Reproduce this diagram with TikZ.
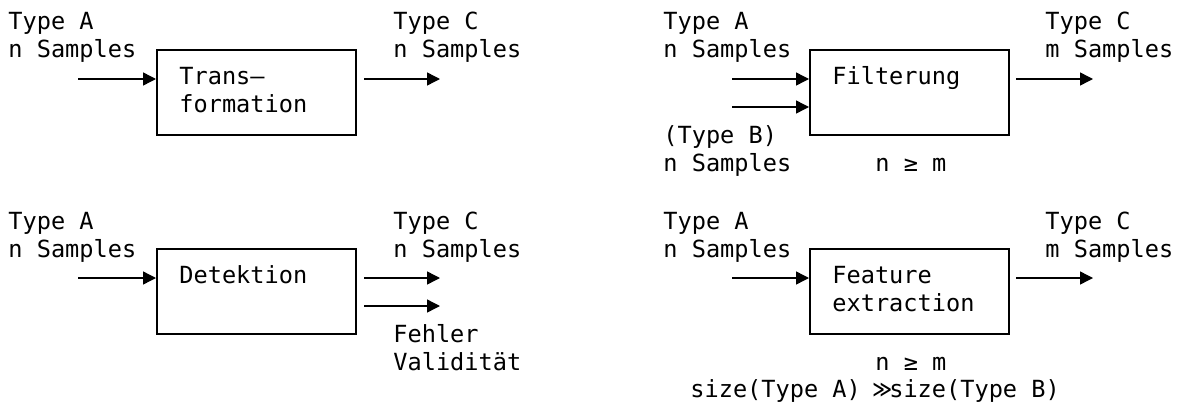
\documentclass[tikz,border=0pt]{standalone}
\usepackage{fontspec}
\setmonofont{DejaVu Sans Mono}
\newfontfamily\symfont{DejaVu Sans}
\usetikzlibrary{arrows.meta}

\tikzset{
  block/.style={draw, line width=1pt, minimum width=99.5pt, minimum height=42.5pt, inner sep=0pt},
  txt/.style={anchor=base west, align=left, inner sep=0pt, font=\ttfamily\fontsize{11.8pt}{14pt}\selectfont},
  flow/.style={-{Triangle[length=6.5pt,width=6.5pt]}, line width=0.7pt},
}
% the mono font has no "much greater" sign, borrow it at one cell width
\newcommand{\mgg}{\makebox[0.602em][c]{\scalebox{0.8}[1]{\symfont ≫}}}

\begin{document}
\begin{tikzpicture}[x=0.5pt,y=-0.5pt]
\useasboundingbox (0,0) rectangle (1177,407);

% Transformation
\node[block] (trans) at (256.5,92.5) {};
\node[txt] (transname) at ([shift={(23,63)}]trans.north west) {Trans—\\formation};
\node[txt] (transa) at (8,57) {Type A\\n Samples};
\node[txt] (transc) at (393,57) {Type C\\n Samples};
\coordinate (transin) at (78,79);
\coordinate (transout) at (440,79);
\draw[flow] (transin) -- (trans.west |- transin);
\draw[flow, shorten <=3.5pt] (trans.east |- transout) -- (transout);

% Filterung
\node[block] (filt) at (909.5,92.5) {};
\node[txt] (filtname) at ([shift={(23,35)}]filt.north west) {Filterung};
\node[txt] (filta) at (663,57) {Type A\\n Samples};
\node[txt] (filtb) at (663,171) {(Type B)\\n Samples};
\node[txt] (filtnm) at (875,171) {n ≥ m};
\node[txt] (filtc) at (1045,57) {Type C\\m Samples};
\coordinate (filtina) at (732,79);
\coordinate (filtinb) at (732,107);
\coordinate (filtout) at (1093,79);
\draw[flow] (filtina) -- (filt.west |- filtina);
\draw[flow] (filtinb) -- (filt.west |- filtinb);
\draw[flow, shorten <=3pt] (filt.east |- filtout) -- (filtout);

% Detektion
\node[block] (det) at (256.5,291.5) {};
\node[txt] (detname) at ([shift={(23,35)}]det.north west) {Detektion};
\node[txt] (deta) at (8,257) {Type A\\n Samples};
\node[txt] (detc) at (393,257) {Type C\\n Samples};
\node[txt] (deterr) at (393,370) {Fehler\\Validität};
\coordinate (detin) at (78,278);
\coordinate (detouta) at (440,278);
\coordinate (detoutb) at (440,306);
\draw[flow] (detin) -- (det.west |- detin);
\draw[flow, shorten <=3.5pt] (det.east |- detouta) -- (detouta);
\draw[flow, shorten <=3.5pt] (det.east |- detoutb) -- (detoutb);

% Feature extraction
\node[block] (feat) at (909.5,291.5) {};
\node[txt] (featname) at ([shift={(23,63)}]feat.north west) {Feature\\extraction};
\node[txt] (feata) at (663,257) {Type A\\n Samples};
\node[txt] (featc) at (1045,257) {Type C\\m Samples};
\node[txt] (featnm) at (875,370) {n ≥ m};
\node[txt] (featsize) at (690,397) {size(Type A) \mgg size(Type B)};
\coordinate (featin) at (732,278);
\coordinate (featout) at (1093,278);
\draw[flow] (featin) -- (feat.west |- featin);
\draw[flow, shorten <=3pt] (feat.east |- featout) -- (featout);
\end{tikzpicture}
\end{document}
